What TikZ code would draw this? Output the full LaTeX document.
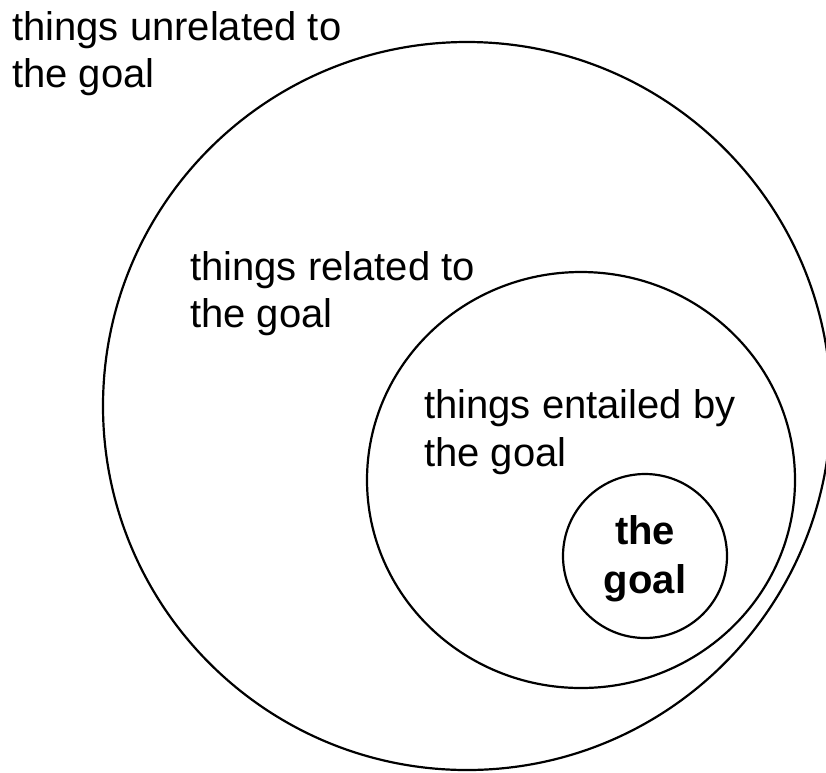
\documentclass[tikz,border=0pt]{standalone}
\usepackage{fontspec}
\setmainfont{Liberation Sans}
\begin{document}
\begin{tikzpicture}[x=1pt,y=-1pt,
  ring/.style={draw=black,line width=2.2pt},
  lbl/.style={inner sep=0pt,anchor=base west,font=\fontsize{40}{48}\selectfont},
  blbl/.style={inner sep=0pt,anchor=base,font=\fontsize{40}{48}\selectfont\bfseries}]
\useasboundingbox (0,0) rectangle (826,772);
\clip (0,0) rectangle (826,772);
\draw[ring] (467,406) circle [radius=364pt];
\draw[ring] (581,480) ellipse [x radius=214pt, y radius=208pt];
\draw[ring] (645,556) circle [radius=82pt];
\node[lbl] (u1) at (12,40) {things unrelated to};
\node[lbl] (u2) at (12,87) {the goal};
\node[lbl] (r1) at (190,280) {things related to};
\node[lbl] (r2) at (190,327) {the goal};
\node[lbl] (e1) at (424,418) {things entailed by};
\node[lbl] (e2) at (424,466) {the goal};
\node[blbl] (g1) at (645,544) {the};
\node[blbl] (g2) at (645,593) {goal};
\end{tikzpicture}
\end{document}
